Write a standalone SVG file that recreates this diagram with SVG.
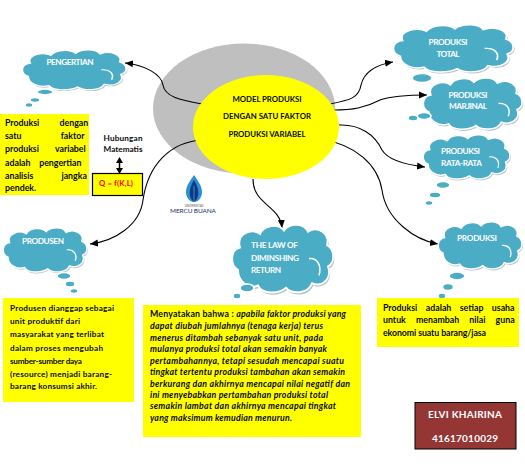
<svg xmlns="http://www.w3.org/2000/svg" width="525" height="464" viewBox="0 0 525 464">
<style>
text{font-family:"Lato","Open Sans","Liberation Sans",sans-serif;font-size:8.800px;fill:#0a0a0a}
.b{font-weight:700}
.t{font-size:7.800px}
.c{font-weight:700;fill:#fff;font-size:8.200px}
.m{text-anchor:middle}
.i{font-style:italic;font-size:8.800px}
.p{font-size:8.200px}
.y{fill:#ff0}
.bubble{fill:#4bacc6;stroke:#fff;stroke-width:1.600}
.con{fill:none;stroke:#000;stroke-width:1.100}
</style>
<defs>
<marker id="arr" markerUnits="userSpaceOnUse" markerWidth="9" markerHeight="8" refX="8" refY="4" orient="auto"><path d="M0,0.500L8,4L0,7.500Z" fill="#000"/></marker>
<path id="cl" d="M6,40C-2,36 -2,22 8,20C4,8 20,2 28,8C32,0 46,-2 52,5C58,-2 72,-2 76,6C86,0 98,8 95,18C103,22 103,34 96,37C100,48 90,56 80,52C76,62 60,62 54,56C46,62 30,62 26,54C16,58 6,50 6,40Z"/>
<g id="cloud">
<use href="#cl" fill="#b4c4c9" transform="translate(1.200,2)"/>
<use href="#cl" fill="#4bacc6" stroke="#fff" stroke-width="1.800"/>
<path d="M77,30C85,29 90,36 87,45" fill="none" stroke="#fff" stroke-width="1.500"/>
</g>
</defs>
<g id="bg-ellipse"><ellipse cx="244" cy="108.500" rx="91" ry="65" fill="#bfbfbf"/></g>
<g id="connectors">
<path class="con" marker-end="url(#arr)" d="M202,104C180,100 165,97 163,85C161,74 145,65 125,63"/>
<path class="con" marker-end="url(#arr)" d="M202,140C170,142 148,165 143,200C140,225 115,241 90,244"/>
<path class="con" marker-end="url(#arr)" d="M330,104C350,100 359,98 361,85C364,72 375,65 393,62"/>
<path class="con" marker-end="url(#arr)" d="M334,110C352,110 365,108 380,100C392,96 410,95 427,95"/>
<path class="con" marker-end="url(#arr)" d="M339,125C360,124 375,135 382,150C388,160 408,165 425,167"/>
<path class="con" marker-end="url(#arr)" d="M322,140C355,144 378,165 382,190C386,220 415,240 438,244"/>
<path class="con" marker-end="url(#arr)" d="M253,179C253,205 280,205 282,228"/>
<path class="con" style="stroke-width:1.500" d="M119.500,161V170"/>
<path d="M119.500,157L123,163H116ZM119.500,174L116,168H123Z" fill="#000"/>
</g>
<g id="main"><ellipse cx="266" cy="127" rx="73" ry="52" fill="#ff0"/>
<text class="b m t" x="267" y="102" textLength="69">MODEL PRODUKSI</text>
<text class="b m t" x="267" y="119" textLength="88">DENGAN SATU  FAKTOR</text>
<text class="b m t" x="267" y="137" textLength="77">PRODUKSI VARIABEL</text></g>
<g id="logo">
<path d="M194,175C198,181 202,186 202,192C202,198 198,202 194,202C190,202 186,198 186,192C186,186 190,181 194,175Z" fill="#2a8fd6"/>
<path d="M194,180C197,185 199,190 198,196C197,199 196,201 194,202C192,201 191,199 190,196C189,190 191,185 194,180Z" fill="#14387f"/>
<path d="M194,186V202" stroke="#2a8fd6" stroke-width="1"/>
<text x="194" y="206.500" class="m" style="font-size:3px;fill:#555">UNIVERSITAS</text>
<text x="193" y="213" class="m" style="font-size:6.500px;fill:#1b2f6e" textLength="46">MERCU BUANA</text>
</g>
<g id="pengertian">
<use href="#cloud" transform="translate(22,50) scale(1.030,.66)"/>
<ellipse class="bubble" cx="45" cy="92" rx="8" ry="3"/><ellipse class="bubble" cx="35" cy="100" rx="5" ry="2.500"/><ellipse class="bubble" cx="29" cy="105" rx="4" ry="2.500"/>
<text class="c m" x="70" y="65" textLength="47">PENGERTIAN</text>
</g>
<g id="pengertian-box"><rect x="0" y="114" width="89" height="81" class="y"/>
<text x="5" y="126" style="word-spacing:18px" class="b">Produksi dengan</text>
<text x="5" y="139" style="word-spacing:37px" class="b">satu faktor</text>
<text x="5" y="152" style="word-spacing:14px" class="b">produksi variabel</text>
<text x="5" y="165.500" style="word-spacing:6.500px" class="b">adalah pengertian</text>
<text x="5" y="179" style="word-spacing:26px" class="b">analisis jangka</text>
<text x="5" y="191" class="b">pendek.</text></g>
<g id="hubungan">
<text class="b m p" x="123" y="141" textLength="39">Hubungan</text>
<text class="b m p" x="123" y="152" textLength="39">Matematis</text></g>
<g id="q"><rect x="92.500" y="173.500" width="50" height="22" class="y" stroke="#000" stroke-width="1.200"/>
<text class="b m" x="116" y="186" style="fill:#f00;font-size:7.800px" textLength="34">Q = f(K,L)</text></g>
<g id="total">
<use href="#cloud" transform="translate(393,25) scale(1.190,.78)"/>
<ellipse class="bubble" cx="422" cy="78" rx="10" ry="4.500"/>
<text class="c m" x="448" y="45" textLength="39">PRODUKSI</text><text class="c m" x="448" y="57" textLength="23">TOTAL</text></g>
<g id="marjinal">
<use href="#cloud" transform="translate(423,78) scale(.98,.85)"/>
<ellipse class="bubble" cx="424" cy="116" rx="7" ry="3.500"/><ellipse class="bubble" cx="413" cy="118" rx="5" ry="3"/>
<text class="c m" x="468" y="98" textLength="39">PRODUKSI</text><text class="c m" x="468" y="109" textLength="38">MARJINAL</text></g>
<g id="rata">
<use href="#cloud" transform="translate(423,135) scale(.86,.73)"/>
<ellipse class="bubble" cx="443" cy="185" rx="7" ry="3.500"/><ellipse class="bubble" cx="435" cy="195" rx="6" ry="3"/><ellipse class="bubble" cx="429" cy="203" rx="4" ry="2.500"/>
<text class="c" x="441" y="154" textLength="39">PRODUKSI</text><text class="c" x="441" y="166" textLength="41">RATA-RATA</text></g>
<g id="produksi">
<use href="#cloud" transform="translate(438,222) scale(.83,.78)"/>
<ellipse class="bubble" cx="457" cy="276" rx="8" ry="4"/><ellipse class="bubble" cx="448" cy="287" rx="5.500" ry="3.500"/><ellipse class="bubble" cx="442" cy="296" rx="4" ry="3"/>
<text class="c m" x="477" y="241" textLength="40">PRODUKSI</text></g>
<g id="produksi-box"><rect x="377" y="298" width="142" height="49" class="y"/>
<text x="383" y="311" class="b" style="word-spacing:6.300px">Produksi adalah setiap usaha</text>
<text x="383" y="323" class="b" style="word-spacing:8px">untuk menambah nilai guna</text>
<text x="383" y="336" class="b" textLength="103">ekonomi suatu barang/jasa</text></g>
<g id="produsen">
<use href="#cloud" transform="translate(3,228) scale(.83,.73)"/>
<ellipse class="bubble" cx="64" cy="276" rx="7" ry="3.500"/><ellipse class="bubble" cx="70" cy="284" rx="5" ry="3"/><ellipse class="bubble" cx="74" cy="291" rx="4" ry="2.500"/>
<text class="c m" x="43" y="244" textLength="42">PRODUSEN</text></g>
<g id="produsen-box"><rect x="3" y="298" width="131" height="104" class="y"/>
<text x="10" y="311" class="b p" textLength="104">Produsen dianggap  sebagai</text>
<text x="10" y="324" class="b p" textLength="70">unit produktif  dari</text>
<text x="10" y="337" class="b p" textLength="94">masyarakat  yang  terlibat</text>
<text x="10" y="351" class="b p" textLength="93">dalam  proses mengubah</text>
<text x="10" y="364" class="b p" textLength="72">sumber-sumber daya</text>
<text x="10" y="377" class="b p" textLength="102">(resource) menjadi  barang-</text>
<text x="10" y="389" class="b p" textLength="87">barang  konsumsi akhir.</text></g>
<g id="law">
<use href="#cloud" transform="translate(232,225) scale(1,1.120)"/>
<ellipse class="bubble" cx="247" cy="288" rx="7" ry="4"/><ellipse class="bubble" cx="237" cy="296" rx="4" ry="3"/>
<text class="c" x="251" y="248" textLength="47">THE LAW  OF</text><text class="c" x="251" y="261" textLength="48">DIMINSHING</text><text class="c" x="251" y="273" textLength="30">RETURN</text></g>
<g id="law-box"><rect x="143" y="305" width="218" height="132" class="y"/>
<g class="b">
<text x="150" y="317" textLength="196">Menyatakan  bahwa : <tspan class="i">apabila faktor produksi yang</tspan></text>
<text x="150" y="329" class="i" textLength="173">dapat diubah jumlahnya  (tenaga kerja)  terus</text>
<text x="150" y="341" class="i" textLength="173">menerus ditambah sebanyak satu unit, pada</text>
<text x="150" y="352" class="i" textLength="177">mulanya produksi total akan semakin  banyak</text>
<text x="150" y="364" class="i" textLength="194">pertambahannya, tetapi sesudah mencapai suatu</text>
<text x="150" y="375" class="i" textLength="195">tingkat tertentu  produksi tambahan akan semakin</text>
<text x="150" y="387" class="i" textLength="200">berkurang dan akhirnya  mencapai nilai negatif dan</text>
<text x="150" y="398" class="i" textLength="178">ini menyebabkan  pertambahan produksi total</text>
<text x="150" y="409" class="i" textLength="186">semakin lambat dan akhirnya mencapai tingkat</text>
<text x="150" y="421" class="i" textLength="142">yang maksimum kemudian  menurun.</text>
</g></g>
<g id="author"><rect x="415" y="402.500" width="101" height="46.500" fill="#943634" stroke="#000" stroke-width="1"/>
<text class="c m" x="465" y="418" style="font-size:10px" textLength="74">ELVI KHAIRINA</text>
<text class="c m" x="465" y="442" style="font-size:10px" textLength="66">41617010029</text></g>
</svg>
